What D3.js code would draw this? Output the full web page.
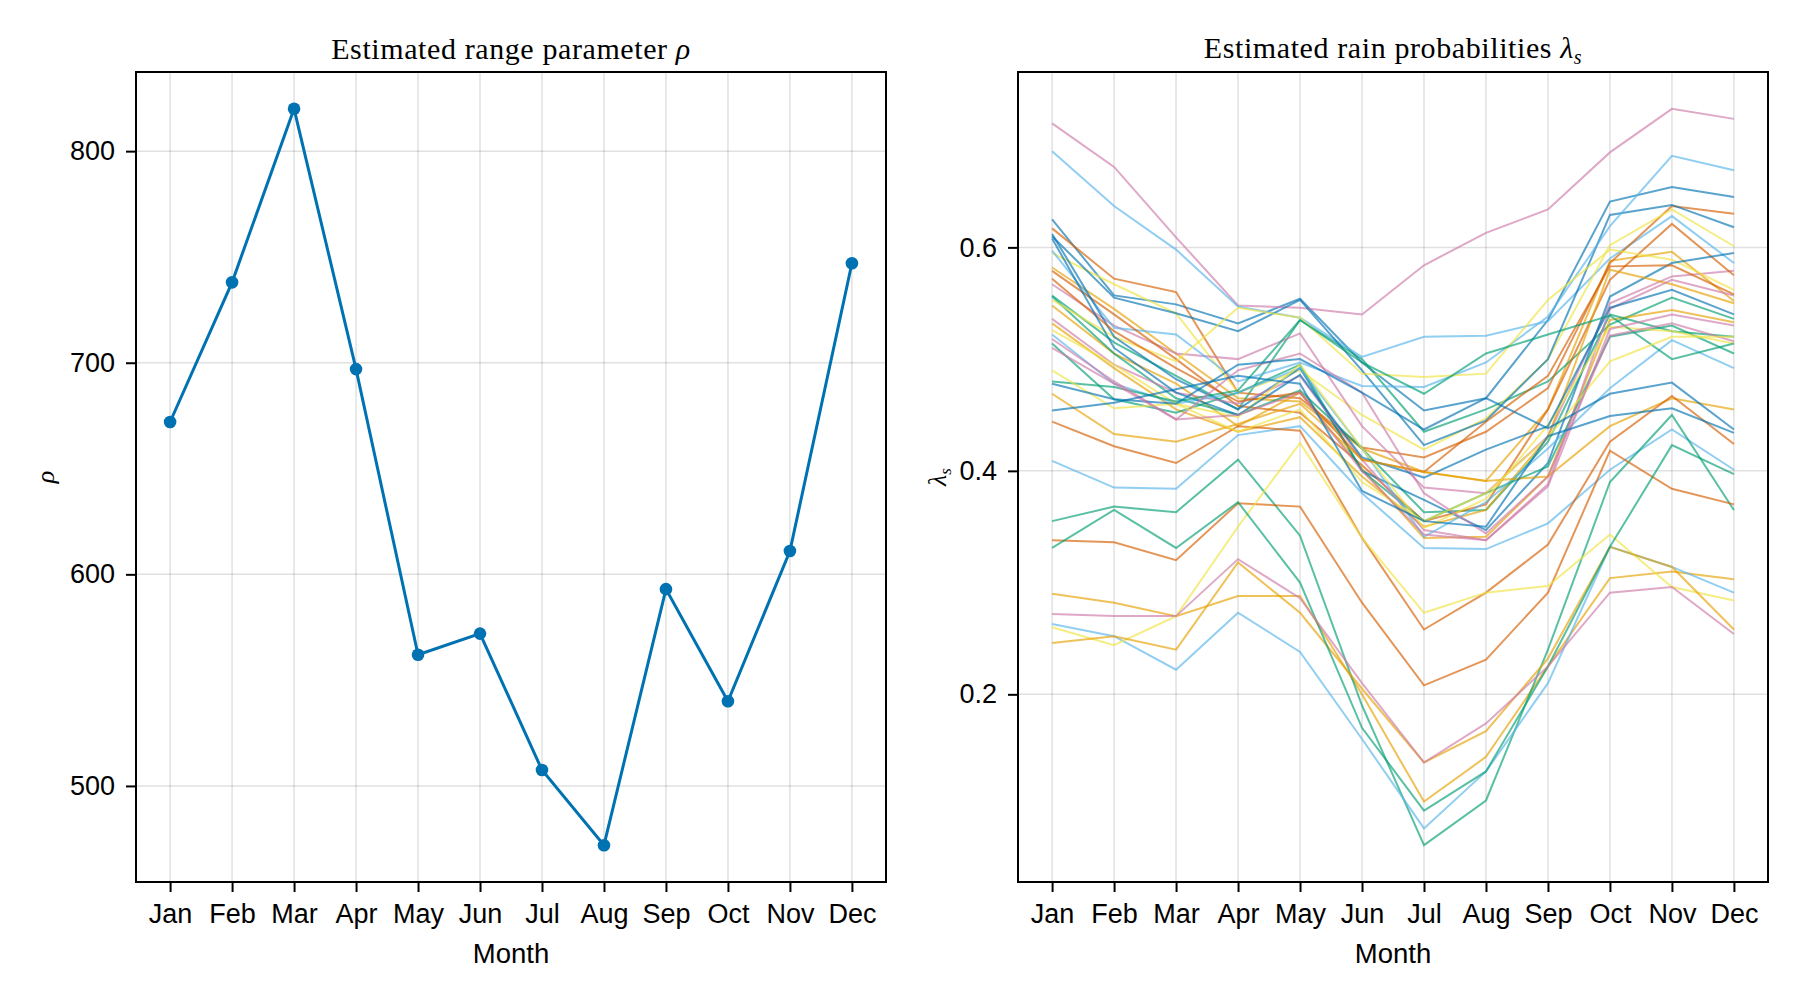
<!DOCTYPE html>
<html lang="en">
<head>
<meta charset="utf-8">
<title>Estimated range parameter and rain probabilities</title>
<script src="https://cdn.jsdelivr.net/npm/d3@7"></script>
<style>
  body { margin: 0; background: #fff; }
  svg { display: block; }
  .tick text { font-family: "Liberation Sans", Arial, sans-serif; font-size: 27px; fill: #000; }
  .tick line { stroke: #000; stroke-width: 2; }
  .title { font-family: "Liberation Serif", serif; font-size: 30px; letter-spacing: 0.6px; fill: #000; }
  .xlabel { font-family: "Liberation Sans", Arial, sans-serif; font-size: 27.5px; fill: #000; }
  .ylabel { font-family: "Liberation Serif", serif; font-size: 26px; font-style: italic; fill: #000; }
  .grid line { stroke: #000; stroke-opacity: 0.12; stroke-width: 1.5; }
</style>
</head>
<body>
<svg id="chart" width="1800" height="1000"></svg>
<script>
const months = ["Jan", "Feb", "Mar", "Apr", "May", "Jun", "Jul", "Aug", "Sep", "Oct", "Nov", "Dec"];

// left panel: range parameter per month
const rho = [672, 738, 820, 697, 562, 572, 507.5, 472, 593, 540, 611, 747];
const rhoTicks = [500, 600, 700, 800];

// right panel: rain probability per station (one row per station, Jan..Dec)
const lambdaS = [
  [0.625, 0.557, 0.549, 0.532, 0.554, 0.497, 0.454, 0.465, 0.535, 0.641, 0.654, 0.645],
  [0.582, 0.545, 0.505, 0.465, 0.462, 0.420, 0.399, 0.391, 0.455, 0.588, 0.596, 0.552],
  [0.557, 0.515, 0.485, 0.455, 0.535, 0.500, 0.435, 0.455, 0.480, 0.531, 0.555, 0.536],
  [0.711, 0.672, 0.609, 0.548, 0.546, 0.540, 0.584, 0.613, 0.634, 0.685, 0.724, 0.715],
  [0.686, 0.637, 0.598, 0.547, 0.537, 0.502, 0.520, 0.521, 0.534, 0.590, 0.628, 0.586],
  [0.617, 0.572, 0.560, 0.470, 0.465, 0.421, 0.412, 0.435, 0.474, 0.586, 0.637, 0.630],
  [0.595, 0.567, 0.541, 0.470, 0.490, 0.450, 0.419, 0.447, 0.500, 0.602, 0.634, 0.601],

  [0.610, 0.555, 0.541, 0.525, 0.553, 0.490, 0.423, 0.445, 0.500, 0.629, 0.638, 0.618],
  [0.548, 0.505, 0.478, 0.440, 0.470, 0.402, 0.340, 0.341, 0.395, 0.535, 0.544, 0.533],
  [0.556, 0.505, 0.465, 0.450, 0.472, 0.420, 0.363, 0.365, 0.426, 0.540, 0.525, 0.520],
  [0.567, 0.530, 0.505, 0.500, 0.523, 0.440, 0.385, 0.380, 0.431, 0.550, 0.574, 0.579],
  [0.597, 0.528, 0.522, 0.480, 0.497, 0.476, 0.475, 0.497, 0.538, 0.619, 0.682, 0.669],
  [0.579, 0.540, 0.500, 0.458, 0.452, 0.405, 0.355, 0.370, 0.455, 0.571, 0.621, 0.575],
  [0.553, 0.520, 0.498, 0.546, 0.537, 0.487, 0.484, 0.487, 0.553, 0.598, 0.589, 0.562],

  [0.612, 0.520, 0.482, 0.455, 0.492, 0.400, 0.374, 0.347, 0.407, 0.556, 0.586, 0.595],
  [0.532, 0.492, 0.455, 0.435, 0.448, 0.395, 0.350, 0.365, 0.430, 0.580, 0.567, 0.550],
  [0.514, 0.464, 0.452, 0.470, 0.495, 0.400, 0.355, 0.380, 0.404, 0.520, 0.530, 0.505],
  [0.536, 0.495, 0.470, 0.460, 0.485, 0.410, 0.347, 0.338, 0.388, 0.545, 0.571, 0.557],
  [0.522, 0.478, 0.460, 0.470, 0.492, 0.420, 0.341, 0.372, 0.420, 0.474, 0.517, 0.492],
  [0.572, 0.525, 0.492, 0.462, 0.470, 0.410, 0.399, 0.444, 0.485, 0.583, 0.584, 0.558],
  [0.526, 0.495, 0.460, 0.448, 0.495, 0.420, 0.349, 0.375, 0.441, 0.529, 0.525, 0.514],

  [0.608, 0.510, 0.470, 0.450, 0.486, 0.412, 0.394, 0.419, 0.440, 0.546, 0.562, 0.540],
  [0.469, 0.433, 0.426, 0.442, 0.460, 0.410, 0.399, 0.391, 0.395, 0.440, 0.465, 0.455],
  [0.480, 0.475, 0.462, 0.472, 0.535, 0.497, 0.469, 0.505, 0.522, 0.539, 0.500, 0.514],
  [0.518, 0.480, 0.446, 0.490, 0.505, 0.470, 0.380, 0.344, 0.395, 0.521, 0.532, 0.516],
  [0.409, 0.385, 0.384, 0.432, 0.440, 0.380, 0.331, 0.330, 0.353, 0.401, 0.437, 0.401],
  [0.444, 0.422, 0.407, 0.440, 0.436, 0.340, 0.258, 0.291, 0.334, 0.426, 0.467, 0.424],
  [0.490, 0.456, 0.460, 0.435, 0.455, 0.390, 0.355, 0.380, 0.430, 0.498, 0.520, 0.520],

  [0.478, 0.464, 0.460, 0.495, 0.500, 0.470, 0.437, 0.465, 0.438, 0.469, 0.479, 0.437],
  [0.290, 0.282, 0.270, 0.288, 0.288, 0.200, 0.104, 0.144, 0.225, 0.304, 0.310, 0.303],
  [0.355, 0.368, 0.363, 0.410, 0.342, 0.190, 0.065, 0.105, 0.240, 0.390, 0.450, 0.365],
  [0.510, 0.478, 0.446, 0.450, 0.470, 0.400, 0.343, 0.338, 0.386, 0.527, 0.540, 0.530],
  [0.263, 0.252, 0.222, 0.273, 0.238, 0.160, 0.080, 0.131, 0.210, 0.332, 0.314, 0.291],
  [0.338, 0.336, 0.320, 0.371, 0.368, 0.282, 0.208, 0.231, 0.291, 0.418, 0.384, 0.370],
  [0.260, 0.244, 0.270, 0.350, 0.425, 0.340, 0.273, 0.291, 0.297, 0.343, 0.296, 0.284],

  [0.454, 0.461, 0.473, 0.485, 0.478, 0.382, 0.355, 0.350, 0.431, 0.449, 0.456, 0.434],
  [0.246, 0.252, 0.240, 0.318, 0.273, 0.205, 0.139, 0.167, 0.232, 0.332, 0.314, 0.258],
  [0.331, 0.365, 0.331, 0.372, 0.300, 0.170, 0.096, 0.131, 0.225, 0.332, 0.423, 0.397],
  [0.272, 0.270, 0.270, 0.321, 0.286, 0.210, 0.139, 0.174, 0.225, 0.291, 0.296, 0.254]
];
const lambdaTicks = [0.2, 0.4, 0.6];

// Makie's default "wong" colour cycle
const wong = ["#0072B2", "#E69F00", "#009E73", "#CC79A7", "#56B4E9", "#D55E00", "#F0E442"];

const svg = d3.select("#chart");
const plotTop = 72, plotBottom = 882;
const monthIdx = d3.range(1, 13);

// pad the data extent by 5% like Makie does
function padded(ext) {
  const r = ext[1] - ext[0];
  return [ext[0] - 0.05 * r, ext[1] + 0.05 * r];
}

function panel(left, right, yDomain, yTicks, yFmt) {
  const g = svg.append("g");
  const x = d3.scaleLinear().domain(padded([1, 12])).range([left, right]);
  const y = d3.scaleLinear().domain(yDomain).range([plotBottom, plotTop]);

  // grid
  const grid = g.append("g").attr("class", "grid");
  grid.selectAll(".vx").data(monthIdx).join("line")
    .attr("x1", d => x(d)).attr("x2", d => x(d))
    .attr("y1", plotTop).attr("y2", plotBottom);
  grid.selectAll(".hy").data(yTicks).join("line")
    .attr("x1", left).attr("x2", right)
    .attr("y1", d => y(d)).attr("y2", d => y(d));

  // axes (frame drawn separately)
  const xa = g.append("g").attr("transform", `translate(0,${plotBottom})`)
    .call(d3.axisBottom(x).tickValues(monthIdx).tickFormat(d => months[d - 1])
      .tickSize(10).tickPadding(12).tickSizeOuter(0));
  xa.select(".domain").remove();
  const ya = g.append("g").attr("transform", `translate(${left},0)`)
    .call(d3.axisLeft(y).tickValues(yTicks).tickFormat(yFmt)
      .tickSize(10).tickPadding(11).tickSizeOuter(0));
  ya.select(".domain").remove();
  g.selectAll(".tick text").attr("font-family", null).attr("font-size", null);

  g.append("text").attr("class", "xlabel")
    .attr("x", (left + right) / 2).attr("y", 963)
    .attr("text-anchor", "middle").text("Month");

  return {g, x, y, left, right};
}

function frame(p) {
  p.g.append("rect")
    .attr("x", p.left).attr("y", plotTop)
    .attr("width", p.right - p.left).attr("height", plotBottom - plotTop)
    .attr("fill", "none").attr("stroke", "#000").attr("stroke-width", 2);
}

// ---- left: rho
const pL = panel(136, 886, padded(d3.extent(rho)), rhoTicks, d3.format("d"));
const lineL = d3.line().x((d, i) => pL.x(i + 1)).y(d => pL.y(d));
pL.g.append("path").datum(rho)
  .attr("d", lineL).attr("fill", "none")
  .attr("stroke", wong[0]).attr("stroke-width", 3);
pL.g.selectAll(".dot").data(rho).join("circle")
  .attr("cx", (d, i) => pL.x(i + 1)).attr("cy", d => pL.y(d))
  .attr("r", 6.3).attr("fill", wong[0]);
frame(pL);

svg.append("text").attr("class", "title")
  .attr("x", 511).attr("y", 59).attr("text-anchor", "middle")
  .call(t => {
    t.append("tspan").text("Estimated range parameter ");
    t.append("tspan").attr("font-style", "italic").text("ρ");
  });
svg.append("text").attr("class", "ylabel")
  .attr("transform", "translate(54,477) rotate(-90)")
  .attr("text-anchor", "middle").text("ρ");

// ---- right: lambda_s
const allLambda = lambdaS.flat();
const pR = panel(1018, 1768, padded(d3.extent(allLambda)), lambdaTicks, d3.format(".1f"));
const lineR = d3.line().x((d, i) => pR.x(i + 1)).y(d => pR.y(d));
pR.g.selectAll(".station").data(lambdaS).join("path")
  .attr("d", lineR).attr("fill", "none")
  .attr("stroke", (d, i) => wong[i % wong.length])
  .attr("stroke-opacity", 0.65).attr("stroke-width", 2);
frame(pR);

svg.append("text").attr("class", "title")
  .attr("x", 1393).attr("y", 58).attr("text-anchor", "middle")
  .call(t => {
    t.append("tspan").text("Estimated rain probabilities ");
    t.append("tspan").attr("font-style", "italic").text("λ");
    t.append("tspan").attr("font-style", "italic").attr("font-size", "20px")
      .attr("dy", 6).text("s");
  });
svg.append("text").attr("class", "ylabel")
  .attr("transform", "translate(946,477) rotate(-90)")
  .attr("text-anchor", "middle")
  .call(t => {
    t.append("tspan").text("λ");
    t.append("tspan").attr("font-size", "17px").attr("dy", 5).text("s");
  });
</script>
</body>
</html>
